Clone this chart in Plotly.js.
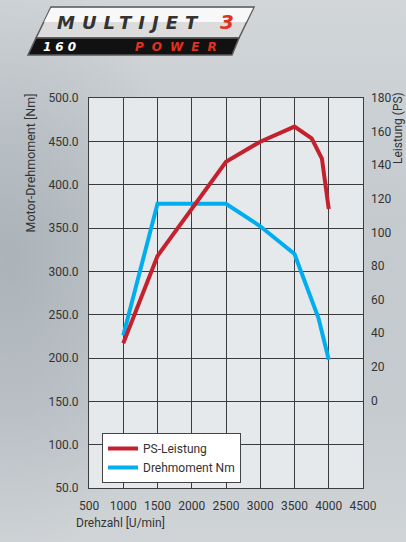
<!DOCTYPE html>
<html>
<head>
<meta charset="utf-8">
<script src="https://cdn.plot.ly/plotly-3.0.1.min.js"></script>
<style>
  html, body { margin:0; padding:0; width:406px; height:542px; overflow:hidden; }
  body {
    background:
      radial-gradient(ellipse 180px 300px at 10px 260px, rgba(150,160,168,0.55), rgba(150,160,168,0) 100%),
      linear-gradient(180deg, #d2d6d9 0%, #c4cace 40%, #c6cbcf 75%, #d0d4d7 100%);
  }
  #chart { width:406px; height:542px; }
</style>
</head>
<body>
<div id="chart"></div>
<script>
// ---- data ----
const rpmTorque = [1000, 1500, 2500, 3000, 3500, 3850, 4000];
const torqueNm  = [226, 378, 378, 352, 320, 246, 198];
const rpmPower  = [1000, 1500, 2500, 3000, 3500, 3750, 3900, 4000];
const powerPS   = [34, 86, 142, 154, 163, 156, 144, 114];
const psTicks   = [0, 20, 40, 60, 80, 100, 120, 140, 160, 180];
const seriesNames = ["PS-Leistung", "Drehmoment Nm"];

// ---- layout geometry (pixels) ----
const W = 406, H = 542;
const L = 89, R = 363, T = 98, B = 488;
const px = x => (x - L) / (R - L);
const py = y => (B - y) / (B - T);

const fontFam = "Roboto, 'Liberation Sans', Arial, sans-serif";

const traces = [
  {
    x: rpmTorque, y: torqueNm, name: seriesNames[1], type: "scatter", mode: "lines",
    line: {color: "#00aeef", width: 4}, yaxis: "y", legendrank: 2
  },
  {
    x: rpmPower, y: powerPS, name: seriesNames[0], type: "scatter", mode: "lines",
    line: {color: "#c4212f", width: 4}, yaxis: "y2", legendrank: 1
  }
];

// logo badge shapes
function poly(pts) {
  return "M" + pts.map(p => px(p[0]) + "," + py(p[1])).join(" L") + " Z";
}
const shapes = [
  {type: "path", xref: "paper", yref: "paper",
   path: poly([[51,7],[254,7],[239,38],[36,38]]),
   fillcolor: "#dcdcdc", line: {color: "#5a5a5a", width: 1.5}},
  {type: "path", xref: "paper", yref: "paper",
   path: poly([[51,8],[253,8],[246,22],[44,22]]),
   fillcolor: "#f8f8f8", line: {width: 0}},
  {type: "path", xref: "paper", yref: "paper",
   path: poly([[36,38],[239,38],[232,55],[28,55]]),
   fillcolor: "#111111", line: {color: "#5a5a5a", width: 1.5}}
];

const annotations = [
  {xref:"paper", yref:"paper", x: px(130), y: py(22), xanchor:"center", yanchor:"middle", showarrow:false,
   text: "<b><i><span style=\"letter-spacing:7px\">MULTIJET</span></i></b>",
   font: {family: "'DejaVu Sans', sans-serif", size: 18, color: "#333333"}},
  {xref:"paper", yref:"paper", x: px(227), y: py(22), xanchor:"center", yanchor:"middle", showarrow:false,
   text: "<b><i>3</i></b>",
   font: {family: "'DejaVu Sans', sans-serif", size: 20, color: "#e2321f"}},
  {xref:"paper", yref:"paper", x: px(61), y: py(46.5), xanchor:"center", yanchor:"middle", showarrow:false,
   text: "<b><i><span style=\"letter-spacing:4px\">160</span></i></b>",
   font: {family: "'DejaVu Sans', sans-serif", size: 12, color: "#ffffff"}},
  {xref:"paper", yref:"paper", x: px(180), y: py(46.5), xanchor:"center", yanchor:"middle", showarrow:false,
   text: "<b><i><span style=\"letter-spacing:8px\">POWER</span></i></b>",
   font: {family: "'DejaVu Sans', sans-serif", size: 12, color: "#e2321f"}},
  // axis titles
  {xref:"paper", yref:"paper", x: px(30), y: py(92), xanchor:"center", yanchor:"top", showarrow:false,
   textangle: -90, text: "Motor-Drehmoment [Nm]",
   font: {family: fontFam, size: 12.5, color: "#333333"}},
  {xref:"paper", yref:"paper", x: px(398), y: py(90), xanchor:"center", yanchor:"top", showarrow:false,
   textangle: -90, text: "Leistung (PS)",
   font: {family: fontFam, size: 12, color: "#333333"}},
  {xref:"paper", yref:"paper", x: px(74), y: py(523), xanchor:"left", yanchor:"middle", showarrow:false,
   text: "Drehzahl [U/min]",
   font: {family: fontFam, size: 12, color: "#333333"}}
];

const layout = {
  width: W, height: H,
  margin: {l: L, r: W - R, t: T, b: H - B, pad: 0},
  paper_bgcolor: "rgba(0,0,0,0)",
  plot_bgcolor: "#e6e9eb",
  font: {family: fontFam, size: 12, color: "#333333"},
  showlegend: true,
  legend: {
    x: px(102), y: py(433), xanchor: "left", yanchor: "top",
    bgcolor: "#ffffff", bordercolor: "#444444", borderwidth: 1,
    font: {family: fontFam, size: 12, color: "#333333"},
    tracegroupgap: 0, itemwidth: 30
  },
  xaxis: {
    range: [500, 4500], dtick: 500, tick0: 500,
    showgrid: true, gridcolor: "#3c3c3c", gridwidth: 1,
    showline: true, linecolor: "#3c3c3c", linewidth: 1, mirror: true,
    zeroline: false, ticks: "", ticklabelstandoff: 7,
    tickfont: {family: fontFam, size: 12, color: "#333333"}
  },
  yaxis: {
    range: [50, 500], dtick: 50, tick0: 50, tickformat: ".1f",
    showgrid: true, gridcolor: "#3c3c3c", gridwidth: 1,
    showline: true, linecolor: "#3c3c3c", linewidth: 1, mirror: true,
    zeroline: false, ticks: "", ticklabelstandoff: 7,
    tickfont: {family: fontFam, size: 12, color: "#333333"}
  },
  yaxis2: {
    overlaying: "y", side: "right",
    range: [-52.1, 180], tickvals: psTicks,
    showgrid: false, showline: false, zeroline: false, ticks: "", ticklabelstandoff: 7,
    tickfont: {family: fontFam, size: 12, color: "#333333"}
  },
  shapes: shapes,
  annotations: annotations
};

Plotly.newPlot("chart", traces, layout, {displayModeBar: false, staticPlot: true});
</script>
</body>
</html>
